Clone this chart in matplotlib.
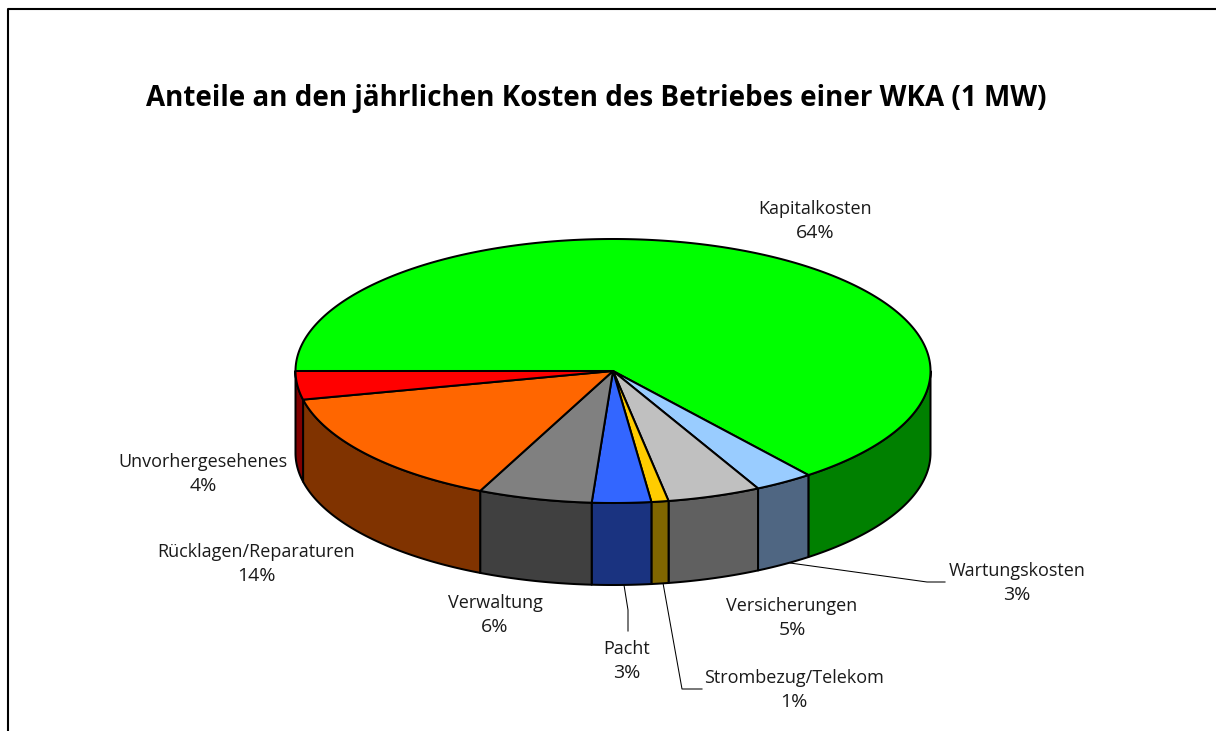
import numpy as np
import matplotlib
matplotlib.use("Agg")
import matplotlib.pyplot as plt
from matplotlib.patches import Polygon
from matplotlib.lines import Line2D

W, H = 1216, 731
plt.rcParams['font.family'] = ['Open Sans', 'DejaVu Sans']

categories = ["Kapitalkosten", "Wartungskosten", "Versicherungen", "Strombezug/Telekom",
              "Pacht", "Verwaltung", "Rücklagen/Reparaturen", "Unvorhergesehenes"]
values = [64.45, 3.0, 4.75, 0.87, 3.0, 5.8, 14.65, 3.48]
shown = ["64%", "3%", "5%", "1%", "3%", "6%", "14%", "4%"]
top_colors = ["#00FF00", "#99CCFF", "#C0C0C0", "#FFCC00", "#3366FF", "#808080", "#FF6600", "#FF0000"]
side_colors = ["#008000", "#4F6682", "#606060", "#806600", "#1A3380", "#404040", "#803300", "#800000"]
title = "Anteile an den jährlichen Kosten des Betriebes einer WKA (1 MW)"

fig = plt.figure(figsize=(W / 100, H / 100), dpi=100, facecolor="white")
ax = fig.add_axes([0, 0, 1, 1])
ax.set_xlim(0, W)
ax.set_ylim(H, 0)
ax.axis("off")

# frame (left and top only, the picture is cropped on the other sides)
ax.add_line(Line2D([8.3, 8.3, 1216], [H, 9.0, 9.0], color="black", lw=1.5))

ax.text(596.5, 98.5, title, ha="center", va="center", fontsize=20.0, fontweight="bold", color="black")

cx, cy, rx, ry, depth = 613, 371, 317.5, 132, 82


def pt(a, dy=0):
    return cx + rx * np.cos(a), cy + ry * np.sin(a) + dy


def arc(a0, a1, dy=0):
    t = np.linspace(a0, a1, max(3, int(abs(a1 - a0) * 90)))
    return np.column_stack(pt(t, dy))


edges = np.cumsum([0] + values) / sum(values) * 2 * np.pi
# screen angle grows clockwise (y is downward), starting at 9 o'clock going over the top
starts = np.pi + edges[:-1]
ends = np.pi + edges[1:]

kw = dict(edgecolor="black", lw=1.45, joinstyle="round")

# outer side walls: only the front half (0..pi) is visible
for s, e, c in zip(starts, ends, side_colors):
    for k in (1, 0):
        lo = max(s, 2 * np.pi * k)
        hi = min(e, 2 * np.pi * k + np.pi)
        if hi > lo:
            ax.add_patch(Polygon(np.vstack([arc(lo, hi), arc(hi, lo, depth)]), closed=True,
                                 facecolor=c, zorder=2, **kw))

# top slices
for s, e, c in zip(starts, ends, top_colors):
    ax.add_patch(Polygon(np.vstack([[cx, cy], arc(s, e)]), closed=True, facecolor=c, zorder=3, **kw))

# labels (centre x, first-line y)
label_pos = [(815, 209), (1017, 571), (792, 606), (794, 678), (627, 649), (495, 603), (256, 552), (203, 462)]
for name, pct, (x, y) in zip(categories, shown, label_pos):
    ax.text(x, y, name, ha="center", va="center", fontsize=13, color="#1a1a1a")
    ax.text(x, y + 24, pct, ha="center", va="center", fontsize=14, color="#1a1a1a")

# leader lines
leaders = [
    ([790, 927, 945], [563, 582, 582]),
    ([663, 682, 702], [583, 689, 689]),
    ([624, 628, 628], [585, 610, 631]),
]
for xs, ys in leaders:
    ax.add_line(Line2D(xs, ys, color="black", lw=0.75, zorder=1))

fig.savefig("out.png", dpi=100, facecolor="white")
